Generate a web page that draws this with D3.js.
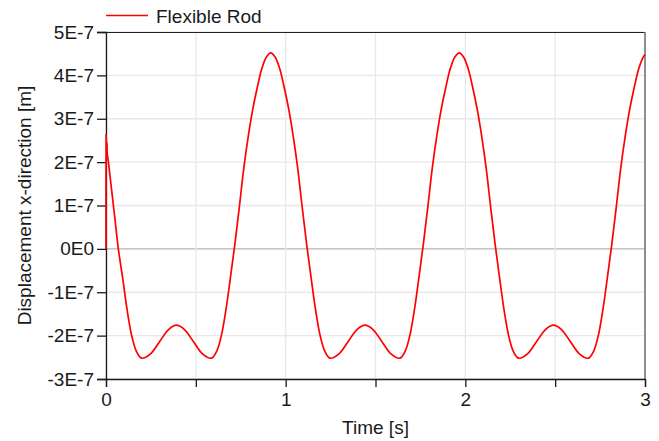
<!DOCTYPE html>
<html>
<head>
<meta charset="utf-8">
<script src="https://cdn.jsdelivr.net/npm/d3@7"></script>
<style>
  body { margin: 0; background: #fff; }
  text { font-family: "Liberation Sans", Arial, sans-serif; fill: #1a1a1a; }
</style>
</head>
<body>
<div id="chart"></div>
<script>
// time [s]
var times = [0, 0.001, 0.003, 0.005, 0.007, 0.012, 0.03, 0.05, 0.068,
  0.093, 0.118, 0.143, 0.168, 0.198, 0.248, 0.298, 0.348, 0.3925, 0.437, 0.487, 0.537, 0.587,
  0.617, 0.642, 0.667, 0.692, 0.717, 0.742, 0.767, 0.792, 0.817, 0.842, 0.867, 0.892, 0.917,
  0.942, 0.967, 0.992, 1.017, 1.042, 1.067, 1.092, 1.117, 1.142, 1.167, 1.192, 1.217, 1.247,
  1.297, 1.347, 1.397, 1.4415, 1.486, 1.536, 1.586, 1.636, 1.666, 1.691, 1.716, 1.741, 1.766,
  1.791, 1.816, 1.841, 1.866, 1.891, 1.916, 1.941, 1.966,
  1.991, 2.016, 2.041, 2.066, 2.091, 2.116, 2.141, 2.166, 2.191, 2.216, 2.241, 2.266, 2.296,
  2.346, 2.396, 2.446, 2.4905, 2.535, 2.585, 2.635, 2.685, 2.715, 2.74, 2.765, 2.79, 2.815,
  2.84, 2.865, 2.89, 2.915, 2.94, 2.965, 2.99, 3.0];

// displacement, in units of 1E-7 m
var disp = [0, 2.62, 2.3, 2.45, 2.2, 2.05, 1.4, 0.68, 0.02,
  -0.68, -1.42, -2.0, -2.35, -2.52, -2.42, -2.14, -1.86, -1.76, -1.86, -2.14, -2.42, -2.52,
  -2.35, -2.0, -1.42, -0.68, 0.1, 0.96, 1.86, 2.6, 3.22, 3.72, 4.15, 4.42, 4.52,
  4.42, 4.15, 3.72, 3.22, 2.6, 1.86, 0.96, 0.1, -0.68, -1.42, -2.0, -2.35, -2.52,
  -2.42, -2.14, -1.86, -1.76, -1.86, -2.14, -2.42, -2.52, -2.35, -2.0, -1.42, -0.68, 0.1,
  0.96, 1.86, 2.6, 3.22, 3.72, 4.15, 4.42, 4.52,
  4.42, 4.15, 3.72, 3.22, 2.6, 1.86, 0.96, 0.1, -0.68, -1.42, -2.0, -2.35, -2.52,
  -2.42, -2.14, -1.86, -1.76, -1.86, -2.14, -2.42, -2.52, -2.35, -2.0, -1.42, -0.68, 0.1,
  0.96, 1.86, 2.6, 3.22, 3.72, 4.15, 4.42, 4.48];

var yTicks = [-3, -2, -1, 0, 1, 2, 3, 4, 5];
var yTickLabels = ["-3E-7", "-2E-7", "-1E-7", "0E0", "1E-7", "2E-7", "3E-7", "4E-7", "5E-7"];
var xTicks = [0, 0.5, 1, 1.5, 2, 2.5, 3];
var xTickLabels = ["0", "", "1", "", "2", "", "3"];
var seriesName = "Flexible Rod";

var margin = {top: 32, right: 14, bottom: 62, left: 106},
    W = 659, H = 441,
    width = W - margin.left - margin.right,
    height = H - margin.top - margin.bottom;

var svg = d3.select("#chart").append("svg")
    .attr("width", W).attr("height", H);
var g = svg.append("g")
    .attr("transform", "translate(" + margin.left + "," + margin.top + ")");

var x = d3.scaleLinear().domain([0, 3]).range([0, width]);
var y = d3.scaleLinear().domain([-3, 5]).range([height, 0]);

// grid
g.selectAll(".hgrid").data(yTicks).enter().append("line")
    .attr("x1", 0).attr("x2", width)
    .attr("y1", d => y(d)).attr("y2", d => y(d))
    .style("stroke", d => d === 0 ? "#b4b4b4" : "#e8e8e8")
    .style("stroke-width", 1.3);
g.selectAll(".vgrid").data(xTicks).enter().append("line")
    .attr("y1", 0).attr("y2", height)
    .attr("x1", d => x(d)).attr("x2", d => x(d))
    .style("stroke", "#e8e8e8")
    .style("stroke-width", 1.3);

// frame (top and right)
g.append("line").attr("x1", 0).attr("x2", width).attr("y1", 0.5).attr("y2", 0.5)
    .style("stroke", "#222").style("stroke-width", 1.2);
g.append("line").attr("x1", width).attr("x2", width).attr("y1", 0).attr("y2", height)
    .style("stroke", "#777").style("stroke-width", 1.6);

// axes
var xAxis = g.append("g")
    .attr("transform", "translate(0," + height + ")")
    .call(d3.axisBottom(x).tickValues(xTicks).tickSize(8).tickPadding(6)
        .tickFormat((d, i) => xTickLabels[i]));
var yAxis = g.append("g")
    .call(d3.axisLeft(y).tickValues(yTicks).tickSize(9).tickPadding(3)
        .tickFormat((d, i) => yTickLabels[i]));
[xAxis, yAxis].forEach(function(a) {
  a.select(".domain").style("stroke", "#1a1a1a").style("stroke-width", 1.3);
  a.selectAll(".tick line").style("stroke", "#1a1a1a").style("stroke-width", 1.3);
  a.selectAll("text").style("font-size", "19px").style("fill", "#1a1a1a")
    .style("font-family", "'Liberation Sans', Arial, sans-serif");
});

// line
var line = d3.line()
    .x((d, i) => x(times[i]))
    .y((d, i) => y(disp[i]))
    .curve(d3.curveCatmullRom.alpha(0.5));
g.append("path")
    .datum(disp)
    .attr("d", line)
    .style("fill", "none")
    .style("stroke", "#ff0000")
    .style("stroke-width", 1.7);

// axis titles
svg.append("text")
    .attr("x", margin.left + width / 2).attr("y", 434)
    .attr("text-anchor", "middle")
    .style("font-size", "19px")
    .text("Time [s]");
svg.append("text")
    .attr("transform", "translate(31," + (margin.top + height / 2) + ") rotate(-90)")
    .attr("text-anchor", "middle")
    .style("font-size", "19px")
    .text("Displacement x-direction [m]");

// legend
svg.append("line")
    .attr("x1", 106).attr("x2", 148).attr("y1", 15.5).attr("y2", 15.5)
    .style("stroke", "#ff0000").style("stroke-width", 1.7);
svg.append("text")
    .attr("x", 156).attr("y", 23)
    .style("font-size", "19px")
    .text(seriesName);
</script>
</body>
</html>
